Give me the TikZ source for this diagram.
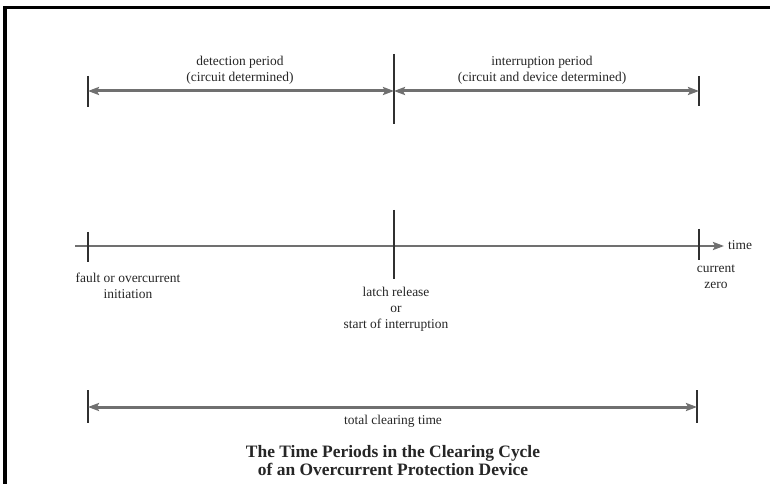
\documentclass[tikz,border=0pt]{standalone}
\usepackage{fontspec}
\setmainfont{Liberation Serif}
\newfontfamily\bodyfont{Liberation Serif}
\usetikzlibrary{arrows.meta}
\definecolor{arrowgray}{HTML}{707070}
\definecolor{tickdark}{HTML}{303030}
\tikzset{
  period/.style={draw=arrowgray, line width=3bp, {Stealth[length=11bp,width=8bp,inset=2bp]}-{Stealth[length=11bp,width=8bp,inset=2bp]}},
  axis/.style={draw=arrowgray, line width=2.5bp, -{Stealth[length=11bp,width=8bp,inset=2bp]}},
  tickline/.style={draw=tickdark, line width=2bp},
  lbl/.style={font=\bodyfont\fontsize{13.5}{16}\selectfont, align=center, inner sep=0pt, text=black!85},
  ttl/.style={font=\bfseries\fontsize{17.5}{18}\selectfont, align=center, inner sep=0pt, text=black!85},
}
\begin{document}
\begin{tikzpicture}[x=1bp,y=-1bp]
\useasboundingbox (0,0) rectangle (770,484);
\fill[white] (0,0) rectangle (770,484);
% frame (top and left)
\draw[line width=3.5bp, black] (5,484) -- (5,7.5) -- (770,7.5);

% top row
\coordinate (tA1) at (88,76);  \coordinate (tA2) at (88,107);
\coordinate (tB1) at (394,54); \coordinate (tB2) at (394,124);
\coordinate (tC1) at (699,76); \coordinate (tC2) at (699,106);
\coordinate (pA) at (88,91); \coordinate (pB) at (394,91); \coordinate (pC) at (699,91);
\draw[tickline] (tA1) -- (tA2);
\draw[tickline] (tB1) -- (tB2);
\draw[tickline] (tC1) -- (tC2);
\draw[period] (pA) -- (pB);
\draw[period] (pB) -- (pC);
\node[lbl] (det) at (240,70) {detection period\\(circuit determined)};
\node[lbl] (intr) at (542,70) {interruption period\\(circuit and device determined)};

% timeline
\coordinate (axS) at (75,246); \coordinate (axE) at (724,246);
\draw[axis] (axS) -- (axE);
\coordinate (mA1) at (88,232);  \coordinate (mA2) at (88,262);
\coordinate (mB1) at (394,210); \coordinate (mB2) at (394,279);
\coordinate (mC1) at (699,229); \coordinate (mC2) at (699,260);
\draw[tickline] (mA1) -- (mA2);
\draw[tickline] (mB1) -- (mB2);
\draw[tickline] (mC1) -- (mC2);
\node[lbl, anchor=west] (time) at (728,245) {time};
\node[lbl] (fault) at (128,286) {fault or overcurrent\\initiation};
\node[lbl] (latch) at (396,309) {latch release\\or\\start of interruption};
\node[lbl] (zero) at (716,277) {current\\zero};

% bottom row
\coordinate (bA1) at (88,390); \coordinate (bA2) at (88,423);
\coordinate (bC1) at (697,390); \coordinate (bC2) at (697,423);
\coordinate (qA) at (88,407); \coordinate (qC) at (697,407);
\draw[tickline] (bA1) -- (bA2);
\draw[tickline] (bC1) -- (bC2);
\draw[period] (qA) -- (qC);
\node[lbl] (total) at (393,421) {total clearing time};

\node[ttl] (title) at (393,461) {The Time Periods in the Clearing Cycle\\of an Overcurrent Protection Device};
\end{tikzpicture}
\end{document}
